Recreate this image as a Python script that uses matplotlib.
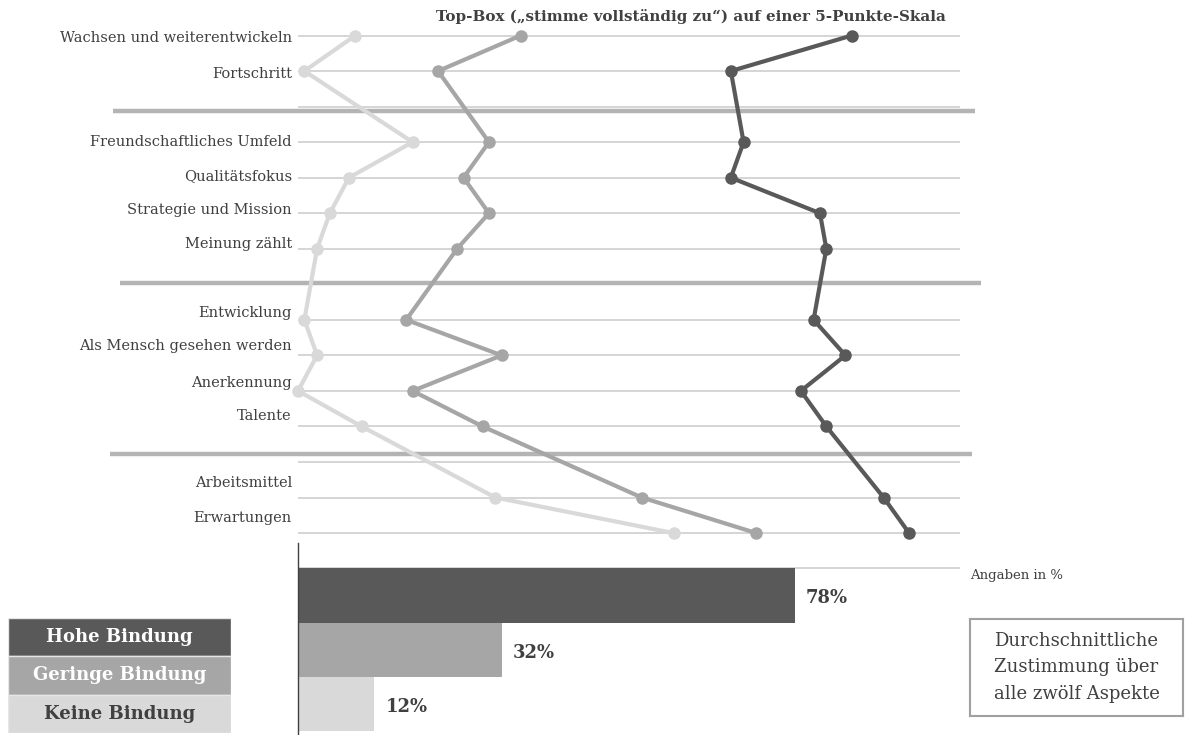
import numpy as np
import matplotlib.pyplot as plt

plt.rcParams['font.family'] = ['DejaVu Serif']

# Top-Box agreement per aspect (in %)
categories = ["Wachsen und weiterentwickeln", "Fortschritt",
              "Freundschaftliches Umfeld", "Qualitätsfokus", "Strategie und Mission", "Meinung zählt",
              "Entwicklung", "Als Mensch gesehen werden", "Anerkennung", "Talente",
              "Arbeitsmittel", "Erwartungen"]
# row of every aspect, rows 2, 7 and 12 stay empty between the groups
rows = [0, 1, 3, 4, 5, 6, 8, 9, 10, 11, 13, 14]
hohe = [87, 68, 70, 68, 82, 83, 81, 86, 79, 83, 92, 96]
geringe = [35, 22, 30, 26, 30, 25, 17, 32, 18, 29, 54, 72]
keine = [9, 1, 18, 8, 5, 3, 1, 3, 0, 10, 31, 59]

groups = ["Hohe Bindung", "Geringe Bindung", "Keine Bindung"]
averages = [78, 32, 12]

title = "Top-Box („stimme vollständig zu“) auf einer 5-Punkte-Skala"
note = "Angaben in %"
box_text = "Durchschnittliche\nZustimmung über\nalle zwölf Aspekte"

colors = ["#595959", "#a6a6a6", "#d9d9d9"]
text_col = "#404040"
grid_col = "#d2d2d2"
sep_col = "#b4b4b4"

W, H = 1185, 735
fig = plt.figure(figsize=(W/100, H/100), dpi=100)

def px_axes(x0, y0, x1, y1):
    return fig.add_axes([x0/W, 1-y1/H, (x1-x0)/W, (y1-y0)/H])

px_per_pct = 6.365
row_px = 35.54
xmax = 104

# --- line chart ---
ax = px_axes(298, 20, 960, 548)
ax.set_xlim(0, xmax)
ax.set_ylim((548-35.5)/row_px, (20-35.5)/row_px)
ax.axis("off")

ax.hlines(np.arange(15), 0, xmax, color=grid_col, lw=1.3, zorder=1)

# group separators (pixel y, x from, x to)
for y, x0, x1 in [(111, 113, 975), (283, 120, 981), (454, 110, 972)]:
    ax.plot([(x0-298)/px_per_pct, (x1-298)/px_per_pct], [(y-35.5)/row_px]*2,
            color=sep_col, lw=3.2, clip_on=False, zorder=2, solid_capstyle="butt")

for vals, c in zip([keine, geringe, hohe], colors[::-1]):
    ax.plot(vals, rows, color=c, lw=3, marker="o", ms=8, clip_on=False, zorder=3)

# labels sit a little off their grid line in the original
label_shift = [3, 3, 0, -2, -3, -5, -7, -9, -8, -10, -15, -15]
for cat, r, sh in zip(categories, rows, label_shift):
    ax.text(-0.95, r + sh/row_px, cat, ha="right", va="center",
            fontsize=10.5, color=text_col)

fig.text(691/W, 1-17/H, title, ha="center", va="center",
         fontsize=10.9, fontweight="bold", color=text_col)

# --- average bars ---
ax2 = px_axes(298, 543, 960, 735)
ax2.set_xlim(0, xmax)
ax2.set_ylim((735-595.5)/54.3, (543-595.5)/54.3)
ax2.barh(range(3), averages, height=1.0, color=colors, zorder=2)
ax2.hlines(-0.5, 0, xmax, color=grid_col, lw=1.3, zorder=1)
for i, v in enumerate(averages):
    ax2.text(v + 1.8, i + 0.05, f"{v}%", va="center", fontsize=13,
             fontweight="bold", color=text_col)
for s in ["top", "right", "bottom"]:
    ax2.spines[s].set_visible(False)
ax2.spines["left"].set_color(text_col)
ax2.spines["left"].set_linewidth(1)
ax2.set_xticks([])
ax2.set_yticks([])

fig.text(970/W, 1-575/H, note, va="center", fontsize=9.5, color=text_col)

# --- box on the right ---
bx = px_axes(970, 619, 1183, 716)
bx.set_xticks([])
bx.set_yticks([])
for s in bx.spines.values():
    s.set_color("#a0a0a0")
    s.set_linewidth(1.5)
bx.text(0.5, 0.5, box_text, ha="center", va="center", fontsize=13,
        linespacing=1.6, color=text_col, transform=bx.transAxes)

# --- legend boxes ---
lg = px_axes(8, 618, 231, 733)
lg.set_xlim(0, 1)
lg.set_ylim(2.5, -0.5)
lg.axis("off")
lg.barh(range(3), [1]*3, height=1.0, color=colors, edgecolor="#e6e6e6", lw=1)
for i, (g, tc) in enumerate(zip(groups, ["white", "white", text_col])):
    lg.text(0.5, i, g, ha="center", va="center", fontsize=13,
            fontweight="bold", color=tc)

fig.savefig("out.png", dpi=100, facecolor="white")
